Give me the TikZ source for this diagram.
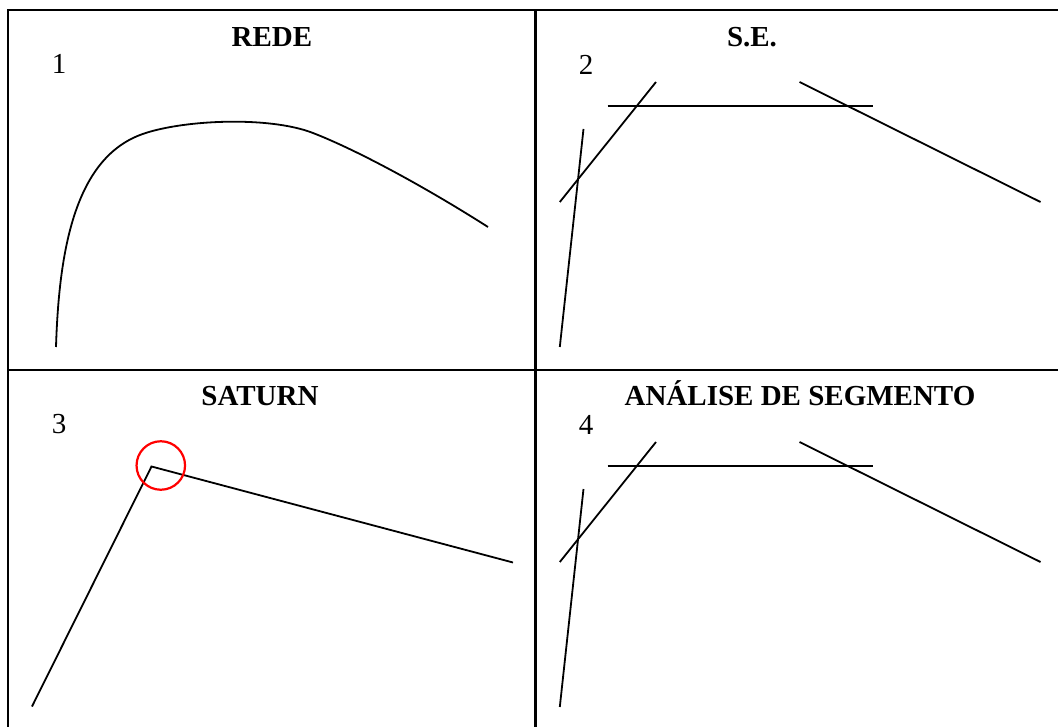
\documentclass[tikz,border=0pt]{standalone}
\usepackage{fontspec}
\setmainfont{Liberation Serif}
\begin{document}
\begin{tikzpicture}[x=1pt,y=-1pt,
  frame/.style={line width=2.2pt,black},
  curve/.style={line width=1.8pt,black,line cap=butt},
  title/.style={font=\fontsize{29}{30}\selectfont\bfseries,anchor=base,inner sep=0pt},
  num/.style={font=\fontsize{29}{30}\selectfont,anchor=center,inner sep=0pt},
  ringmark/.style={red,line width=2.2pt}]
\useasboundingbox (0,0) rectangle (1058,727);
% table frame
\coordinate (TL) at (8,10);
\coordinate (TR) at (1058,10);
\coordinate (BL) at (8,727);
\coordinate (ML) at (8,370);
\coordinate (MR) at (1058,370);
\coordinate (MT) at (535.5,10);
\coordinate (MB) at (535.5,727);
\draw[frame] (BL) -- (TL) -- (TR);
\draw[frame] (ML) -- (MR);
\draw[frame] (MT) -- (MB);
% titles and numbers
\node[title] (t1) at (272,47) {REDE};
\node[title] (t2) at (752,47) {S.E.};
\node[title] (t3) at (260,406) {SATURN};
\node[title] (t4) at (800,406) {ANÁLISE DE SEGMENTO};
\node[num] (n1) at (59,64) {1};
\node[num] (n2) at (586,65) {2};
\node[num] (n3) at (59,424) {3};
\node[num] (n4) at (586,425) {4};
% panel 1: curve
\coordinate (c0) at (56,347);
\coordinate (c1) at (140,135);
\coordinate (c2) at (313,133);
\coordinate (c3) at (488,227);
\draw[curve] (c0) .. controls (59,250) and (75,160) .. (c1)
  .. controls (179,120) and (268,115.5) .. (c2)
  .. controls (360,151.3) and (430,190) .. (c3);
% panels 2 and 4: segments
\foreach \p/\dy in {s2/0,s4/360}{
  \coordinate (\p a1) at (583.5,129+\dy);
  \coordinate (\p a2) at (559.8,347+\dy);
  \coordinate (\p b1) at (559.8,202+\dy);
  \coordinate (\p b2) at (656,82+\dy);
  \coordinate (\p h1) at (607.5,106+\dy);
  \coordinate (\p h2) at (872.5,106+\dy);
  \coordinate (\p d1) at (799.5,82+\dy);
  \coordinate (\p d2) at (1040.5,202+\dy);
  \draw[curve] (\p a1) -- (\p a2);
  \draw[curve] (\p b1) -- (\p b2);
  \draw[curve] (\p h1) -- (\p h2);
  \draw[curve] (\p d1) -- (\p d2);
}
% panel 3: broken line with circled break point
\coordinate (p3a) at (32,706.5);
\coordinate (p3b) at (151.5,466.5);
\coordinate (p3c) at (513,562.5);
\draw[curve,line join=miter] (p3a) -- (p3b) -- (p3c);
\node[ringmark,draw,circle,minimum size=48.5pt,inner sep=0pt] (ring) at (160.8,465.5) {};
\end{tikzpicture}
\end{document}
